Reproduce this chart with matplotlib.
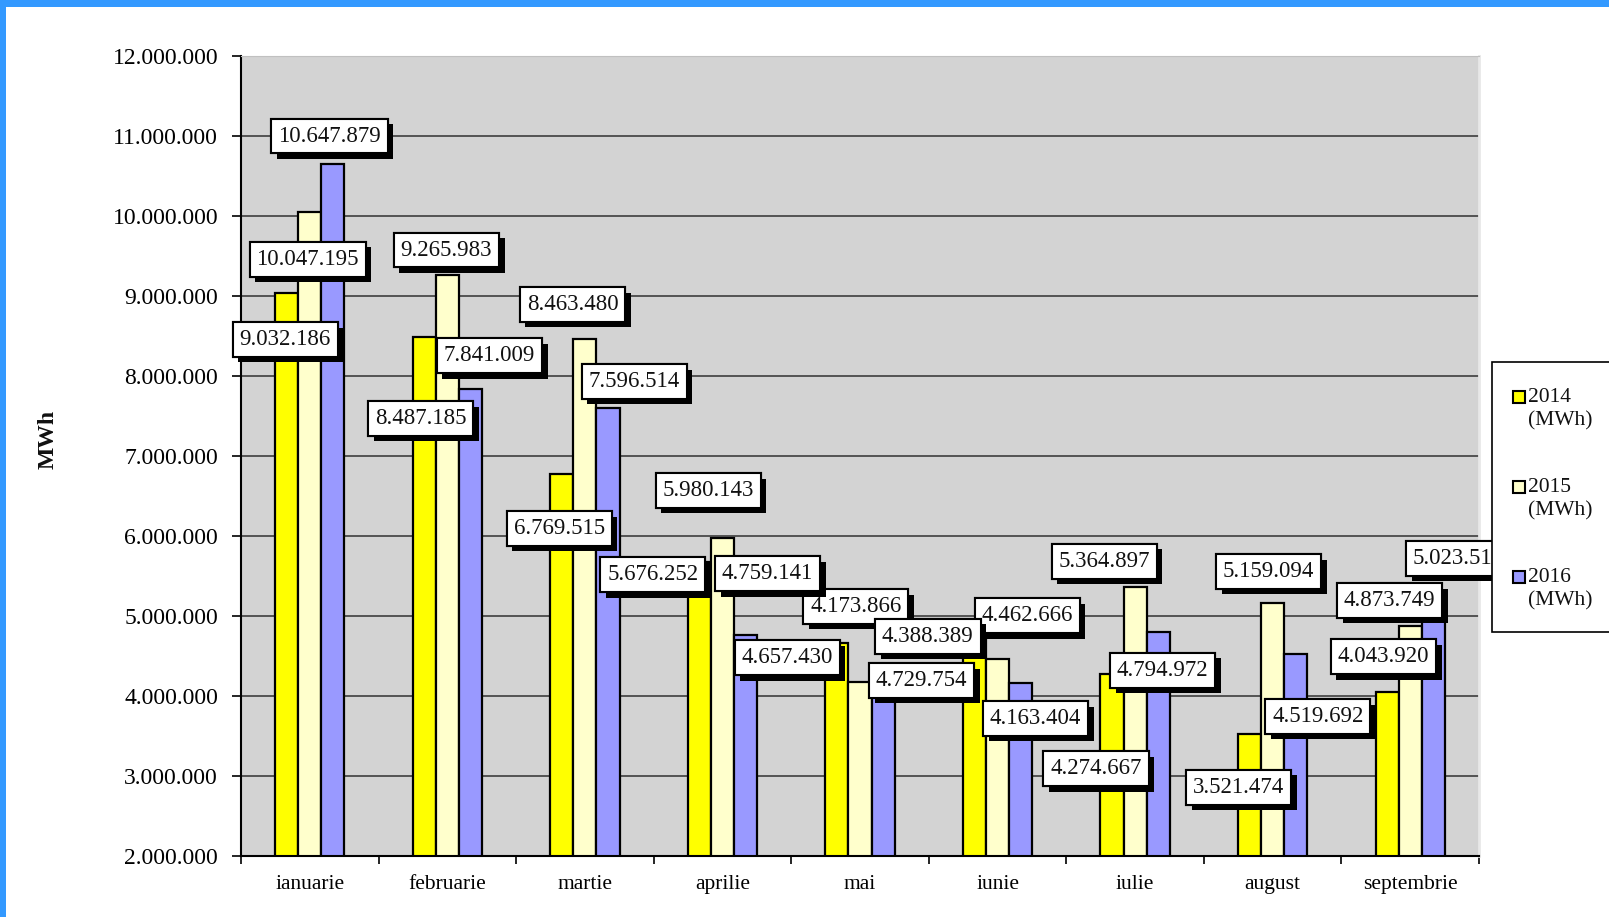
import matplotlib
matplotlib.use('Agg')
import matplotlib.pyplot as plt
import matplotlib.patheffects as pe
from matplotlib.patches import Rectangle
from matplotlib.ticker import FixedLocator, FuncFormatter
import numpy as np

months = ['ianuarie', 'februarie', 'martie', 'aprilie', 'mai',
          'iunie', 'iulie', 'august', 'septembrie']
series = ['2014', '2015', '2016']
v2014 = [9032186, 8487185, 6769515, 5676252, 4657430, 4729754, 4274667, 3521474, 4043920]
v2015 = [10047195, 9265983, 8463480, 5980143, 4173866, 4462666, 5364897, 5159094, 4873749]
v2016 = [10647879, 7841009, 7596514, 4759141, 4388389, 4163404, 4794972, 4519692, 5023515]
y_ticks = [2e6, 3e6, 4e6, 5e6, 6e6, 7e6, 8e6, 9e6, 10e6, 11e6, 12e6]

# where the (manually moved) data labels sit: (category x, millions)
lbl2014 = [(-0.179, 8.457), (0.806, 7.469), (1.813, 6.095), (2.493, 5.517), (3.470, 4.478),
           (4.448, 4.195), (5.716, 3.091), (6.754, 2.860), (7.806, 4.490)]
lbl2015 = [(-0.015, 9.46), (0.993, 9.574), (1.910, 8.893), (2.896, 6.570), (3.970, 5.119),
           (5.216, 5.004), (5.776, 5.684), (6.970, 5.556), (7.851, 5.196)]
lbl2016 = [(0.142, 11.0), (1.306, 8.252), (2.358, 7.931), (3.328, 5.530), (4.493, 4.747),
           (5.276, 3.720), (6.201, 4.323), (7.328, 3.746), (8.351, 5.723)]

colors = ['#ffff00', '#ffffcc', '#9999ff']
W, H = 1609, 917


def fmt(v):
    return f'{v:,.0f}'.replace(',', '.')


plt.rcParams['font.family'] = ['Liberation Serif', 'DejaVu Serif']
plt.rcParams['text.color'] = '#111111'

fig = plt.figure(figsize=(W / 100, H / 100), dpi=100)
ax = fig.add_axes([241 / W, 1 - 856 / H, (1479 - 241) / W, (856 - 56) / H])
ax.set_facecolor('#d3d3d3')

x = np.arange(len(months))
bw = 0.168
for i, (vals, c) in enumerate(zip([v2014, v2015, v2016], colors)):
    ax.bar(x + (i - 1) * bw, vals, width=bw, color=c, edgecolor='black',
           linewidth=1.6, zorder=2)

ax.set_ylim(2e6, 12e6)
ax.set_xlim(-0.5, len(months) - 0.5)
ax.yaxis.set_major_locator(FixedLocator(y_ticks))
ax.yaxis.set_major_formatter(FuncFormatter(lambda v, p: fmt(v)))
ax.grid(axis='y', color='#303030', linewidth=1.1)
ax.set_axisbelow(True)

ax.set_xticks(x)
ax.set_xticklabels(months, fontsize=15.5)
ax.xaxis.set_minor_locator(FixedLocator(np.arange(-0.5, len(months), 1)))
ax.tick_params(axis='x', which='major', length=0, pad=14)
ax.tick_params(axis='x', which='minor', length=6, width=1.2, direction='out')
ax.tick_params(axis='y', length=6.5, width=1.2, pad=10, labelsize=17)

for s in ['left', 'bottom']:
    ax.spines[s].set_color('black')
    ax.spines[s].set_linewidth(1.5)
ax.spines['top'].set_color('#c0c0c0')
ax.spines['right'].set_color('#e8e8e8')
ax.spines['right'].set_linewidth(2)

shadow = [pe.withSimplePatchShadow(offset=(4, -4), shadow_rgbFace='black', alpha=1.0),
          pe.Normal()]
for vals, pos in zip([v2014, v2015, v2016], [lbl2014, lbl2015, lbl2016]):
    for v, (lx, ly) in zip(vals, pos):
        t = ax.text(lx, ly * 1e6, fmt(v), ha='center', va='center', fontsize=16.5,
                    zorder=4, bbox=dict(boxstyle='square,pad=0.3', fc='white',
                                        ec='black', lw=1.5))
        t.get_bbox_patch().set_path_effects(shadow)

fig.text(48 / W, 1 - 439 / H, 'MWh', rotation=90, fontsize=17, fontweight='bold',
         ha='center', va='center')

# legend box (runs past the right edge like the original)
fig.add_artist(Rectangle((1492 / W, 1 - 632 / H), 200 / W, 270 / H,
                         transform=fig.transFigure, fc='white', ec='black',
                         lw=1.2, zorder=10))
for k, (name, c) in enumerate(zip(series, colors)):
    yc = 397 + 90 * k
    fig.add_artist(Rectangle((1513 / W, 1 - (yc + 6) / H), 12 / W, 12 / H,
                             transform=fig.transFigure, fc=c, ec='black',
                             lw=1.5, zorder=11))
    fig.text(1528 / W, 1 - yc / H, name, fontsize=15.5, va='center', ha='left', zorder=11)
    fig.text(1528 / W, 1 - (yc + 24) / H, '(MWh)', fontsize=15.5, va='center',
             ha='left', zorder=11)

# blue frame on top and left
fig.add_artist(Rectangle((0, 1 - 7 / H), 1, 7 / H, transform=fig.transFigure,
                         fc='#3399ff', ec='none', zorder=12))
fig.add_artist(Rectangle((0, 0), 6 / W, 1, transform=fig.transFigure,
                         fc='#3399ff', ec='none', zorder=12))

fig.savefig('out.png', dpi=100)
